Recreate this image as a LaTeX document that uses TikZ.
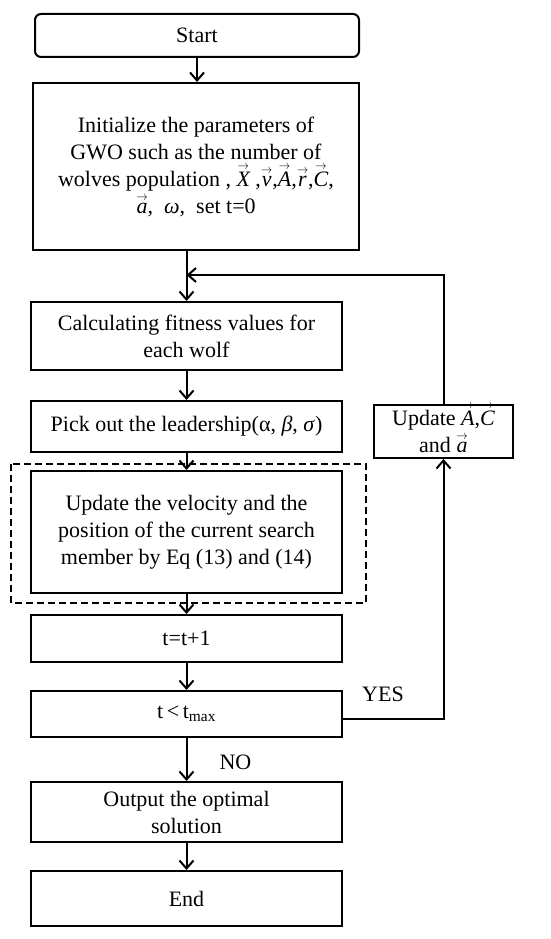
\documentclass[tikz,border=0pt]{standalone}
\usepackage{fontspec}
\setmainfont{Liberation Serif}
\usepackage{amsmath}
\usetikzlibrary{arrows.meta,calc}
\newcommand{\vect}[1]{\ensuremath{\smash{\overset{\raisebox{-0.55ex}{\scalebox{0.55}[0.6]{$\rightarrow$}}}{\textit{#1}}}\vphantom{X}}}
\begin{document}
\begin{tikzpicture}[x=1pt,y=-1pt,
  box/.style={draw, line width=2pt, minimum width=311pt, align=center, inner sep=0pt, font=\fontsize{22}{27}\selectfont},
  arr/.style={line width=2pt, -{Straight Barb[length=8pt,width=14pt]}},
  lbl/.style={font=\fontsize{22}{27}\selectfont},
  dashbox/.style={line width=2pt, dash pattern=on 7pt off 4pt}]
\useasboundingbox (0,0) rectangle (550,939);
\node[box, rounded corners=6pt, minimum width=324pt, minimum height=43pt] (start) at (197,35.5) {Start};
\node[box, minimum width=326pt, minimum height=167pt] (init) at (196,166.5) {Initialize the parameters of\\ GWO such as the number of\\ wolves population , \vect{X} ,\vect{v},\vect{A},\vect{r},\vect{C},\\ \vect{a}, \ \textit{ω}, \ set t=0};
\node[box, minimum height=68pt] (calc) at (186.5,336) {Calculating fitness values for\\ each wolf};
\node[box, minimum height=51pt] (pick) at (186.5,426.5) {Pick out the leadership(α, \textit{β}, \textit{σ})};
\draw[dashbox] (11,464) rectangle (366,603);
\node[box, minimum height=122pt] (upd) at (186.5,532) {Update the velocity and the\\ position of the current search\\ member by Eq (13) and (14)};
\node[box, minimum width=139pt, minimum height=53pt] (uac) at (443.5,431.5) {Update \vect{A},\vect{C}\\ and \vect{a}};
\node[box, minimum height=47pt] (tp) at (186.5,638.5) {t=t+1};
\node[box, minimum height=46pt] (tl) at (186.5,714) {t\,<\,t\textsubscript{max}};
\node[box, minimum height=60pt] (out) at (186.5,812) {Output the optimal\\ solution};
\node[box, minimum height=55pt] (end) at (186.5,898.5) {End};
\node[lbl] (no) at (235.5,762) {NO};
\node[lbl] (yes) at (383,694) {YES};
\coordinate (fb) at (186.5,275);
\draw[arr] (start.south) -- (start.south |- init.north);
\draw[arr] (init.south -| calc.north) -- (calc.north);
\draw[arr] (calc.south) -- (pick.north);
\draw[arr] (pick.south) -- (upd.north);
\draw[arr] (upd.south) -- (tp.north);
\draw[arr] (tp.south) -- (tl.north);
\draw[arr] (tl.south) -- (out.north);
\draw[arr] (out.south) -- (end.north);
\draw[arr] (uac.north) |- (fb);
\draw[arr] ([yshift=-5pt]tl.east) -| (uac.south);
\end{tikzpicture}
\end{document}
